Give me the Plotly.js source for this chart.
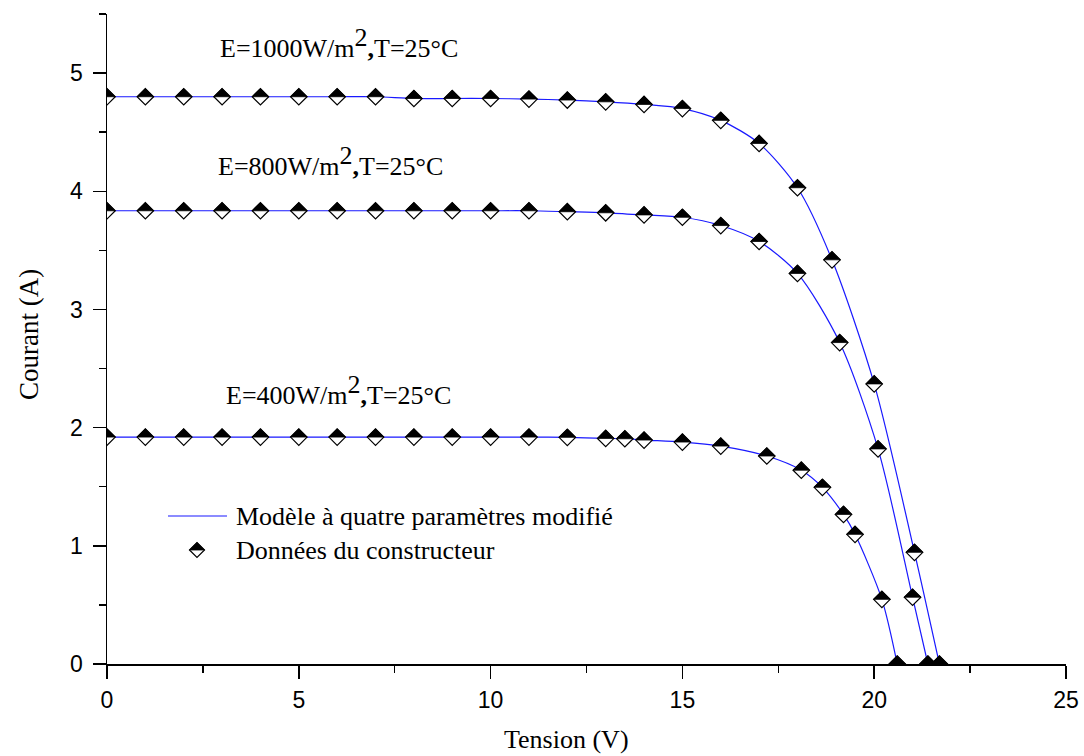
<!DOCTYPE html>
<html><head><meta charset="utf-8">
<script src="https://cdn.plot.ly/plotly-3.0.1.min.js"></script>
<style>html,body{margin:0;padding:0;background:#fff}#chart{width:1084px;height:756px}</style>
</head><body><div id="chart"></div>
<script>
// Tension (V) / Courant (A) — données du constructeur
const V1000 = [0,1,2,3,4,5,6,7,8,9,10,11,12,13,14,15,16,17,18,18.9,20,21.05,21.7];
const I1000 = [4.80,4.80,4.80,4.80,4.80,4.80,4.80,4.80,4.785,4.785,4.785,4.78,4.772,4.757,4.735,4.70,4.60,4.405,4.03,3.42,2.37,0.945,0];
const V800 = [0,1,2,3,4,5,6,7,8,9,10,11,12,13,14,15,16,17,18,19.1,20.1,21.0,21.4];
const I800 = [3.835,3.835,3.835,3.835,3.835,3.835,3.835,3.835,3.835,3.835,3.835,3.835,3.827,3.818,3.80,3.78,3.71,3.575,3.305,2.72,1.82,0.565,0];
const V400 = [0,1,2,3,4,5,6,7,8,9,10,11,12,13,13.5,14,15,16,17.2,18.1,18.65,19.2,19.5,20.2,20.6];
const I400 = [1.92,1.92,1.92,1.92,1.92,1.92,1.92,1.92,1.92,1.92,1.92,1.92,1.918,1.909,1.906,1.895,1.878,1.844,1.76,1.64,1.495,1.266,1.097,0.547,0];
const seriesV = [V1000, V800, V400];
const seriesI = [I1000, I800, I400];
const curveLabels = [
  'E=1000W/m<sup><span style="font-size:26px">2</span></sup><b>,</b>T=25°C',
  'E=800W/m<sup><span style="font-size:26px">2</span></sup><b>,</b>T=25°C',
  'E=400W/m<sup><span style="font-size:26px">2</span></sup><b>,</b>T=25°C'
];
const legendLabels = ['Modèle à quatre paramètres modifié', 'Données du constructeur'];
const xTitle = 'Tension (V)';
const yTitle = 'Courant (A)';

const SERIF = 'Liberation Serif, Times New Roman, serif';
const SANS = 'Liberation Sans, Arial, sans-serif';
const LINE_BLUE = 'rgb(25,25,255)';

const traces = [];
seriesV.forEach((V, s) => {
  traces.push({x: V, y: seriesI[s], type: 'scatter', mode: 'lines',
    line: {color: LINE_BLUE, width: 1.2, shape: 'spline', smoothing: 0.8},
    hoverinfo: 'x+y', showlegend: false});
});
seriesV.forEach((V, s) => {
  traces.push({x: V, y: seriesI[s], type: 'scatter', mode: 'markers',
    marker: {symbol: 'diamond', size: 12.7, color: 'white', line: {color: 'black', width: 1.2}},
    hoverinfo: 'x+y', showlegend: false});
});

const shapes = [];
seriesV.forEach((V, s) => {
  V.forEach((v, k) => {
    shapes.push({type: 'path', xref: 'x', yref: 'y', xsizemode: 'pixel', ysizemode: 'pixel',
      xanchor: v, yanchor: seriesI[s][k], path: 'M-8.3,0L0,8.3L8.3,0Z',
      fillcolor: 'black', line: {color: 'black', width: 0.8}, layer: 'above'});
  });
});
// legend (drawn manually)
const pxX = p => (p - 107) / 959;
const pxY = p => (664 - p) / 650;
shapes.push({type: 'line', xref: 'paper', yref: 'paper', x0: pxX(168), x1: pxX(227), y0: pxY(516), y1: pxY(516),
  line: {color: LINE_BLUE, width: 1.2}});
shapes.push({type: 'path', xref: 'paper', yref: 'paper', xsizemode: 'pixel', ysizemode: 'pixel',
  xanchor: pxX(197), yanchor: pxY(550), path: 'M-7.5,0L0,-7.5L7.5,0L0,7.5Z',
  fillcolor: 'white', line: {color: 'black', width: 1.2}});
shapes.push({type: 'path', xref: 'paper', yref: 'paper', xsizemode: 'pixel', ysizemode: 'pixel',
  xanchor: pxX(197), yanchor: pxY(550), path: 'M-7.5,0L0,7.5L7.5,0Z',
  fillcolor: 'black', line: {color: 'black', width: 0.8}});

const annPos = [[2.89, 5.255], [2.84, 4.255], [3.05, 2.32]];
const annotations = curveLabels.map((t, i) => ({
  text: t, x: annPos[i][0], y: annPos[i][1], xref: 'x', yref: 'y', xanchor: 'left', yanchor: 'middle',
  showarrow: false, font: {family: SERIF, size: 26, color: 'black'}
}));
annotations.push({text: legendLabels[0], xref: 'paper', yref: 'paper', x: pxX(234), y: pxY(516),
  xanchor: 'left', yanchor: 'middle', showarrow: false, font: {family: SERIF, size: 26, color: 'black'}});
annotations.push({text: legendLabels[1], xref: 'paper', yref: 'paper', x: pxX(234), y: pxY(550),
  xanchor: 'left', yanchor: 'middle', showarrow: false, font: {family: SERIF, size: 26, color: 'black'}});
annotations.push({text: xTitle, xref: 'paper', yref: 'paper', x: pxX(566), y: pxY(739),
  xanchor: 'center', yanchor: 'middle', showarrow: false, font: {family: SERIF, size: 26, color: 'black'}});
annotations.push({text: yTitle, xref: 'paper', yref: 'paper', x: pxX(29), y: pxY(335), textangle: -90,
  xanchor: 'center', yanchor: 'middle', showarrow: false, font: {family: SERIF, size: 27, color: 'black'}});

const axisCommon = {
  ticks: 'outside', ticklen: 13, tickwidth: 1.5, tickcolor: 'black',
  showline: true, linecolor: 'black', linewidth: 1.5, showgrid: false, zeroline: false,
  tickfont: {family: SANS, size: 23, color: 'black'}, fixedrange: true
};
const layout = {
  width: 1084, height: 756,
  margin: {l: 107, r: 18, t: 14, b: 92, pad: 0},
  paper_bgcolor: 'white', plot_bgcolor: 'white',
  showlegend: false,
  xaxis: Object.assign({}, axisCommon, {range: [0, 25], tick0: 0, dtick: 5, ticklabelstandoff: 2,
    minor: {tick0: 0, dtick: 2.5, ticks: 'outside', ticklen: 7, tickwidth: 1.5, tickcolor: 'black', showgrid: false}}),
  yaxis: Object.assign({}, axisCommon, {range: [0, 5.5], tick0: 0, dtick: 1, ticklabelstandoff: 5,
    minor: {tick0: 0, dtick: 0.5, ticks: 'outside', ticklen: 7, tickwidth: 1.5, tickcolor: 'black', showgrid: false}}),
  shapes: shapes,
  annotations: annotations
};
Plotly.newPlot('chart', traces, layout, {displayModeBar: false, staticPlot: true});
</script></body></html>
